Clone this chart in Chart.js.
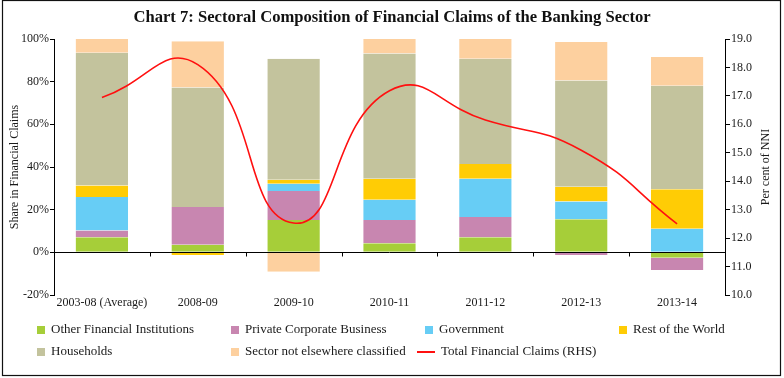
<!DOCTYPE html>
<html><head><meta charset="utf-8">
<style>html,body{margin:0;padding:0;background:#fff}</style>
<script src="https://cdn.jsdelivr.net/npm/chart.js@4.4.1/dist/chart.umd.min.js"></script>
</head><body>
<canvas id="c" width="784" height="378"></canvas>
<script>
const categories = ['2003-08 (Average)', '2008-09', '2009-10', '2010-11', '2011-12', '2012-13', '2013-14'];
const otherFin   = [7.1, 3.5, 15.1, 4.3, 7.1, 15.5, -2.5];
const privCorp   = [3.1, 17.8, 13.7, 10.8, 9.5, -1.2, -5.8];
const government = [15.7, 0, 3.3, 9.5, 17.9, 8.3, 11.0];
const restWorld  = [5.4, -1.2, 1.9, 9.9, 6.9, 6.9, 18.6];
const households = [62.3, 56.0, 56.8, 58.7, 49.4, 49.9, 48.5];
const sectorNec  = [6.4, 21.6, -9.1, 6.8, 9.2, 18.0, 13.5];
const totalClaims = [16.94, 18.1, 12.53, 17.18, 16.15, 15.09, 12.5];
const leftTicks = [-20, 0, 20, 40, 60, 80, 100];
const rightTicks = [10, 11, 12, 13, 14, 15, 16, 17, 18, 19];

const FONT = "'Liberation Serif', 'Times New Roman', serif";
const TXT = '#1a1a1a';

function bar(label, data, color) {
  return { type: 'bar', label, data, backgroundColor: color, borderColor: 'rgba(255,255,255,0.35)', borderWidth: { left: 1, right: 1, top: 0, bottom: 0 }, borderSkipped: false, yAxisID: 'y', order: 1, barPercentage: 0.565, categoryPercentage: 1 };
}

const datasets = [
  bar('Other Financial Institutions', otherFin, '#A6CE39'),
  bar('Private Corporate Business', privCorp, '#C886B0'),
  bar('Government', government, '#67CDF5'),
  bar('Rest of the World', restWorld, '#FFCC05'),
  bar('Households', households, '#C3C39D'),
  bar('Sector not elsewhere classified', sectorNec, '#FDD09F'),
  { type: 'line', label: 'Total Financial Claims (RHS)', data: totalClaims, borderColor: '#FF1010', backgroundColor: '#FF1010', borderWidth: 1.6, pointRadius: 0, tension: 0.5, yAxisID: 'y1', order: 0, fill: false }
];

const legendOrder = [0, 1, 2, 3, 4, 5, 6];
const legendCols = [37, 231, 425, 619];
const legendRows = [330, 352];

const deco = {
  id: 'deco',
  beforeDraw(chart) {
    const c = chart.ctx;
    c.save(); c.fillStyle = '#fff'; c.fillRect(0, 0, chart.width, chart.height); c.restore();
  },
  afterDatasetsDraw(chart) {
    const c = chart.ctx, x = chart.scales.x, y = chart.scales.y, a = chart.chartArea;
    const y0 = Math.round(y.getPixelForValue(0)) + 0.5;
    c.save();
    c.strokeStyle = '#000'; c.lineWidth = 1;
    c.beginPath(); c.moveTo(a.left, y0); c.lineTo(a.right, y0); c.stroke();
    const n = categories.length;
    for (let i = 1; i < n; i++) {
      const px = Math.round((x.getPixelForValue(i - 1) + x.getPixelForValue(i)) / 2) + 0.5;
      c.beginPath(); c.moveTo(px, y0); c.lineTo(px, y0 + 4); c.stroke();
    }
    c.restore();
  },
  afterDraw(chart) {
    const c = chart.ctx, a = chart.chartArea;
    c.save();
    c.fillStyle = '#111';
    c.font = "bold 16.6px " + FONT;
    c.textAlign = 'center'; c.textBaseline = 'middle';
    c.fillText('Chart 7: Sectoral Composition of Financial Claims of the Banking Sector', 392, 18);
    c.font = "12px " + FONT; c.fillStyle = TXT;
    const cy = (a.top + a.bottom) / 2;
    c.save(); c.translate(15, cy); c.rotate(-Math.PI / 2); c.fillText('Share in Financial Claims', 0, 0); c.restore();
    c.save(); c.translate(766, cy); c.rotate(-Math.PI / 2); c.fillText('Per cent of NNI', 0, 0); c.restore();
    c.font = "13px " + FONT; c.textAlign = 'left';
    legendOrder.forEach((di, k) => {
      const ds = chart.data.datasets[di];
      const col = k % 4, row = Math.floor(k / 4);
      const lx = legendCols[col], ly = legendRows[row];
      if (ds.type === 'line') {
        c.strokeStyle = ds.borderColor; c.lineWidth = 2;
        c.beginPath(); c.moveTo(lx - 8, ly); c.lineTo(lx + 10, ly); c.stroke();
        c.fillStyle = TXT; c.fillText(ds.label, lx + 16, ly);
      } else {
        c.fillStyle = ds.backgroundColor; c.fillRect(lx, ly - 4, 8, 8);
        c.fillStyle = TXT; c.fillText(ds.label, lx + 14, ly);
      }
    });
    c.strokeStyle = '#111'; c.lineWidth = 1.2;
    c.strokeRect(2.5, 0.5, 778, 375);
    c.restore();
  }
};

new Chart(document.getElementById('c'), {
  data: { labels: categories, datasets },
  options: {
    responsive: false, animation: false, devicePixelRatio: 1,
    layout: { padding: { top: 39, left: 0, right: 0, bottom: 0 } },
    plugins: { legend: { display: false }, title: { display: false }, tooltip: { enabled: false } },
    scales: {
      x: {
        stacked: true, offset: true,
        grid: { display: false, drawTicks: false }, border: { display: false },
        ticks: { color: TXT, font: { family: FONT, size: 12 }, padding: 1, maxRotation: 0, autoSkip: false },
        afterFit(s) { s.height = 83; }
      },
      y: {
        stacked: true, position: 'left', min: -20, max: 100,
        afterBuildTicks(s) { s.ticks = leftTicks.map(v => ({ value: v })); },
        ticks: { color: TXT, font: { family: FONT, size: 12 }, padding: 1, callback: v => v + '%' },
        grid: { drawOnChartArea: false, drawTicks: true, tickLength: 4, tickColor: '#000' },
        border: { display: true, color: '#000', width: 1 },
        afterFit(s) { s.width = 54; }
      },
      y1: {
        position: 'right', min: 10, max: 19,
        afterBuildTicks(s) { s.ticks = rightTicks.map(v => ({ value: v })); },
        ticks: { color: TXT, font: { family: FONT, size: 12 }, padding: 1, callback: v => Number(v).toFixed(1) },
        grid: { drawOnChartArea: false, drawTicks: true, tickLength: 5, tickColor: '#000' },
        border: { display: true, color: '#000', width: 1 },
        afterFit(s) { s.width = 59; }
      }
    }
  },
  plugins: [deco]
});
</script>
</body></html>
